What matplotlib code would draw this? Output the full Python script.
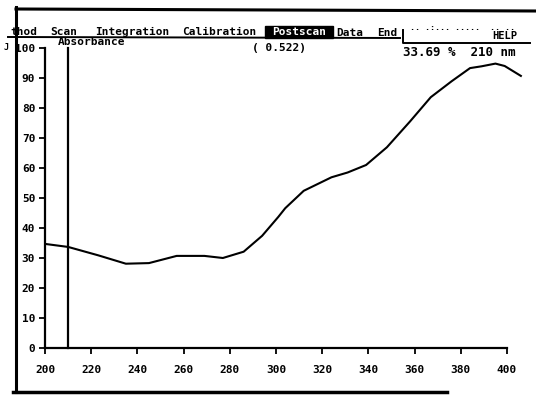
import matplotlib
matplotlib.use('Agg')
import matplotlib.pyplot as plt
from matplotlib.lines import Line2D
from matplotlib.patches import Rectangle

# 扫描光谱数据（nm, %）
wavelength_nm = [200, 210, 223, 235, 245, 257, 269, 277, 286, 294, 301, 304, 312,
                 324, 331, 339, 348, 358, 367, 376, 384, 389, 395, 399, 406]
reading = [34.7, 33.69, 30.9, 28.1, 28.3, 30.7, 30.7, 30.0, 32.1, 37.4, 43.7, 46.6, 52.4,
           56.9, 58.5, 61.0, 66.9, 75.5, 83.6, 88.9, 93.3, 93.9, 94.8, 94.0, 90.7]

x_ticks = [200, 220, 240, 260, 280, 300, 320, 340, 360, 380, 400]
y_ticks = [0, 10, 20, 30, 40, 50, 60, 70, 80, 90, 100]

cursor_nm = 210
cursor_value = 33.69
cursor_abs = 0.522

menu_items = ['thod', 'Scan', 'Integration', 'Calibration']
menu_x = [10, 50, 95, 182]

W, H = 536, 398
FONT = 'DejaVu Sans Mono'


def fx(px):
    return px / W


def fy(py):
    return 1 - py / H


def fig_text(fig, px, py, s, size=8, **kw):
    fig.text(fx(px), fy(py), s, family=FONT, fontweight='bold', fontsize=size,
             va='center', ha=kw.pop('ha', 'left'), **kw)


def fig_line(fig, xs, ys, lw=1.8):
    fig.add_artist(Line2D([fx(v) for v in xs], [fy(v) for v in ys],
                          color='black', linewidth=lw, transform=fig.transFigure))


fig = plt.figure(figsize=(W / 100, H / 100), dpi=100)
fig.patch.set_facecolor('white')

# 坐标区：200 nm 在 45px，每 nm 约 2.31px
ax = fig.add_axes([fx(45), 50 / H, 2.31 * 210 / W, 300 / H])
ax.plot(wavelength_nm, reading, color='black', linewidth=1.5)
ax.plot([cursor_nm, cursor_nm], [0, 100], color='black', linewidth=1.6, clip_on=False)

ax.set_xlim(200, 410)
ax.set_ylim(0, 100)
ax.set_xticks(x_ticks)
ax.set_yticks(y_ticks)
for side in ('top', 'right'):
    ax.spines[side].set_visible(False)
ax.spines['bottom'].set_bounds(200, 400)
for side in ('left', 'bottom'):
    ax.spines[side].set_linewidth(1.6)
ax.tick_params(direction='out', length=4, width=1.3, labelsize=8)
ax.tick_params(axis='x', pad=8)
ax.tick_params(axis='y', pad=3)
for lab in ax.get_xticklabels() + ax.get_yticklabels():
    lab.set_family(FONT)
    lab.set_fontweight('bold')
ax.patch.set_alpha(0)

# 外框
fig_line(fig, [16, 16], [7, 392], lw=2.2)
fig_line(fig, [13, 447], [392, 392], lw=2.5)
fig_line(fig, [16, 536], [9, 11], lw=2.2)

# 菜单栏
for name, px in zip(menu_items, menu_x):
    fig_text(fig, px, 32, name)
fig.add_artist(Rectangle((fx(265), fy(38)), fx(68), 12 / H, color='black',
                         transform=fig.transFigure))
fig_text(fig, 299, 32, 'Postscan', color='white', ha='center')
fig_text(fig, 336, 33, 'Data')
fig_text(fig, 377, 33, 'End')
fig_line(fig, [8, 400], [37, 38], lw=1.4)

# 右侧提示与 HELP
fig_text(fig, 410, 28, '.. .:... .....  .. ..', size=6)
fig_text(fig, 492, 36, 'HELP', size=7.5)
fig_line(fig, [403, 403, 530], [30, 43, 43], lw=1.4)

# 读数行
fig_text(fig, 4, 47, 'J', size=6)
fig_text(fig, 58, 42, 'Absorbance')
fig_text(fig, 252, 48, f'( {cursor_abs:.3f})')
fig_text(fig, 403, 53, f'{cursor_value:.2f} %  {cursor_nm} nm', size=9)

fig.savefig('out.png', dpi=100, facecolor='white')
plt.close(fig)
